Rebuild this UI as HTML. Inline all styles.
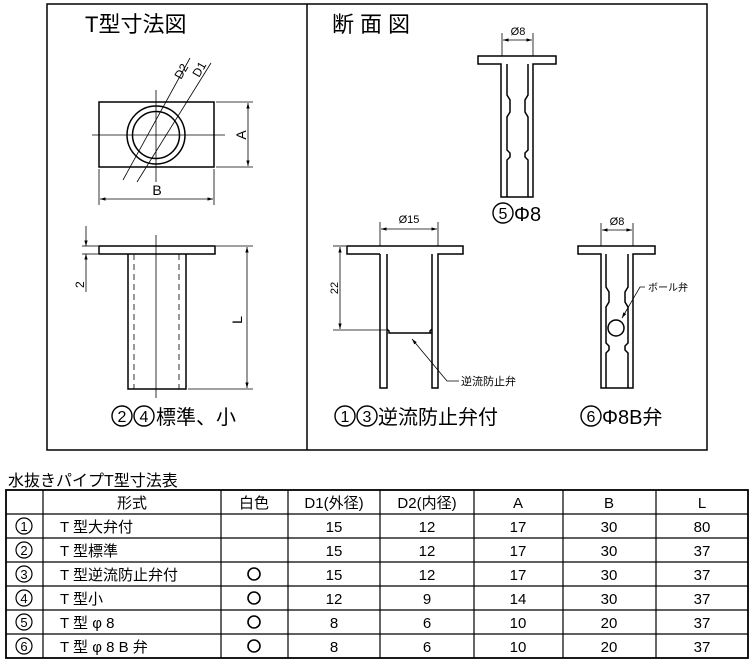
<!DOCTYPE html>
<html><head><meta charset="utf-8"><style>
body{margin:0;background:#fff;width:750px;height:661px;overflow:hidden}
svg{display:block}
text{font-family:"Liberation Sans","Noto Sans CJK JP",sans-serif;fill:#000}
</style></head><body>
<svg width="750" height="661" viewBox="0 0 750 661" xmlns="http://www.w3.org/2000/svg">
<defs>
<marker id="a" viewBox="0 0 10 10" refX="10" refY="5" markerWidth="7" markerHeight="7" orient="auto-start-reverse"><path d="M0,2 L10,5 L0,8 z" fill="#000"/></marker>
</defs>
<g fill="none" stroke="#000">
<rect x="47" y="4" width="660" height="446" stroke-width="1.5"/>
<line x1="307" y1="4" x2="307" y2="450" stroke-width="1.5"/>
</g>
<text x="85" y="32" font-size="22">T型寸法図</text>
<text x="332" y="32" font-size="22" letter-spacing="6">断面図</text>

<g fill="none" stroke="#000" stroke-width="1.5">
<rect x="99" y="102" width="115" height="65"/>
<circle cx="156" cy="135" r="29"/>
<circle cx="156" cy="135" r="23.5"/>
</g>
<g stroke="#000" stroke-width="0.8" fill="none">
<line x1="92" y1="135" x2="225" y2="135"/>
<line x1="156" y1="90" x2="156" y2="182"/>
<line x1="211" y1="63" x2="137" y2="182"/>
<line x1="190" y1="58" x2="123" y2="180"/>
<line x1="216" y1="102" x2="253" y2="102"/>
<line x1="216" y1="167" x2="253" y2="167"/>
<line x1="248" y1="103" x2="248" y2="166" marker-start="url(#a)" marker-end="url(#a)"/>
<line x1="99" y1="169" x2="99" y2="205"/>
<line x1="214" y1="169" x2="214" y2="205"/>
<line x1="100" y1="199" x2="213" y2="199" marker-start="url(#a)" marker-end="url(#a)"/>
</g>
<text x="157" y="195" font-size="14" text-anchor="middle">B</text>
<text transform="translate(246,135) rotate(-90)" font-size="14" text-anchor="middle">A</text>
<text transform="translate(181,80) rotate(-60)" font-size="12">D2</text>
<text transform="translate(199,78) rotate(-60)" font-size="12">D1</text>

<g fill="none" stroke="#000" stroke-width="1.5">
<rect x="99" y="246" width="116" height="8"/>
<path d="M128,254 V389 H186 V254"/>
</g>
<g stroke="#000" stroke-width="0.8" fill="none">
<line x1="134" y1="254" x2="134" y2="389" stroke-dasharray="6,4"/>
<line x1="179" y1="254" x2="179" y2="389" stroke-dasharray="6,4"/>
<line x1="156" y1="235" x2="156" y2="398"/>
<line x1="216" y1="246" x2="253" y2="246"/>
<line x1="188" y1="389" x2="253" y2="389"/>
<line x1="247" y1="247" x2="247" y2="388" marker-start="url(#a)" marker-end="url(#a)"/>
<line x1="82" y1="246" x2="98" y2="246"/>
<line x1="82" y1="254" x2="98" y2="254"/>
<line x1="86" y1="226" x2="86" y2="246" marker-end="url(#a)"/>
<line x1="86" y1="292" x2="86" y2="254" marker-end="url(#a)"/>
</g>
<text transform="translate(84,288) rotate(-90)" font-size="12">2</text>
<text transform="translate(242,320) rotate(-90)" font-size="14" text-anchor="middle">L</text>

<!-- captions with drawn circled numbers -->
<g fill="none" stroke="#000" stroke-width="1.4">
<circle cx="122" cy="416" r="10"/><circle cx="144" cy="416" r="10"/>
<circle cx="345" cy="416" r="10"/><circle cx="367" cy="416" r="10"/>
<circle cx="591" cy="416" r="10"/>
<circle cx="503" cy="213" r="10"/>
</g>
<g font-size="16" text-anchor="middle">
<text x="122" y="422">2</text><text x="144" y="422">4</text>
<text x="345" y="422">1</text><text x="367" y="422">3</text>
<text x="591" y="422">6</text><text x="503" y="219">5</text>
</g>
<text x="156" y="424" font-size="20">標準、小</text>
<text x="378" y="424" font-size="20">逆流防止弁付</text>
<text x="602" y="424" font-size="20">Φ8B弁</text>
<text x="514" y="221" font-size="20">Φ8</text>

<g fill="none" stroke="#000" stroke-width="1.5">
<path d="M501,64 H478 V56 H556 V64 H533 V197 H501 Z"/>
<path d="M507,64 V95 L510,100 V112 L507,117 V150 L510,153 V157 L507,160 V197"/>
<path d="M528,64 V95 L525,100 V112 L528,117 V150 L525,153 V157 L528,160 V197"/>
</g>
<g stroke="#000" stroke-width="0.8">
<line x1="502" y1="33" x2="502" y2="56"/><line x1="533" y1="33" x2="533" y2="56"/>
<line x1="503" y1="40" x2="532" y2="40" marker-start="url(#a)" marker-end="url(#a)"/>
</g>
<text x="518" y="35" font-size="11" text-anchor="middle">Ø8</text>

<g fill="none" stroke="#000" stroke-width="1.5">
<path d="M380,254 H347 V246 H463 V254 H438 V388 H432 V254 M380,254 V388 H387 V254"/>
<path d="M387,329 L389,331 V333 H432 M432,329 L430,331 V333"/>
</g>
<g stroke="#000" stroke-width="0.8" fill="none">
<line x1="380" y1="222" x2="380" y2="246"/><line x1="438" y1="222" x2="438" y2="246"/>
<line x1="381" y1="229" x2="437" y2="229" marker-start="url(#a)" marker-end="url(#a)"/>
<line x1="333" y1="246" x2="346" y2="246"/><line x1="333" y1="330" x2="386" y2="330"/>
<line x1="340" y1="247" x2="340" y2="329" marker-start="url(#a)" marker-end="url(#a)"/>
<polyline points="459,381 447,381 412,339" marker-end="url(#a)"/>
</g>
<text x="409" y="223" font-size="11" text-anchor="middle">Ø15</text>
<text transform="translate(338,288) rotate(-90)" font-size="11" text-anchor="middle">22</text>
<text x="461" y="385" font-size="11">逆流防止弁</text>

<g fill="none" stroke="#000" stroke-width="1.5">
<path d="M601,254 H578 V246 H655 V254 H633 V388 H601 Z"/>
<path d="M606,254 V287 L609,292 V302 L606,307 V343 L609,346 V350 L606,353 V388"/>
<path d="M628,254 V287 L625,292 V302 L628,307 V343 L625,346 V350 L628,353 V388"/>
<circle cx="616" cy="328" r="8"/>
</g>
<g stroke="#000" stroke-width="0.8" fill="none">
<line x1="601" y1="223" x2="601" y2="246"/><line x1="633" y1="223" x2="633" y2="246"/>
<line x1="602" y1="230" x2="632" y2="230" marker-start="url(#a)" marker-end="url(#a)"/>
<polyline points="645,287 640,287 622,318" marker-end="url(#a)"/>
</g>
<text x="617" y="225" font-size="11" text-anchor="middle">Ø8</text>
<text x="648" y="291" font-size="10">ボール弁</text>

<text x="8" y="486" font-size="16">水抜きパイプT型寸法表</text>
<g stroke="#000" stroke-width="1.2" fill="none">
<rect x="6" y="490" width="742" height="168" stroke-width="1.8"/>
<line x1="43" y1="490" x2="43" y2="658"/><line x1="221" y1="490" x2="221" y2="658"/>
<line x1="288" y1="490" x2="288" y2="658"/><line x1="380" y1="490" x2="380" y2="658"/>
<line x1="474" y1="490" x2="474" y2="658"/><line x1="563" y1="490" x2="563" y2="658"/>
<line x1="656" y1="490" x2="656" y2="658"/>
<line x1="6" y1="514" x2="748" y2="514"/><line x1="6" y1="538" x2="748" y2="538"/>
<line x1="6" y1="562" x2="748" y2="562"/><line x1="6" y1="586" x2="748" y2="586"/>
<line x1="6" y1="610" x2="748" y2="610"/><line x1="6" y1="634" x2="748" y2="634"/>
<circle cx="254" cy="574" r="6" stroke-width="1.6"/><circle cx="254" cy="598" r="6" stroke-width="1.6"/>
<circle cx="254" cy="622" r="6" stroke-width="1.6"/><circle cx="254" cy="646" r="6" stroke-width="1.6"/>
<circle cx="24" cy="526" r="8"/><circle cx="24" cy="550" r="8"/><circle cx="24" cy="574" r="8"/>
<circle cx="24" cy="598" r="8"/><circle cx="24" cy="622" r="8"/><circle cx="24" cy="646" r="8"/>
</g>
<g font-size="13" text-anchor="middle">
<text x="24" y="531">1</text><text x="24" y="555">2</text><text x="24" y="579">3</text>
<text x="24" y="603">4</text><text x="24" y="627">5</text><text x="24" y="651">6</text>
</g>
<g font-size="15" text-anchor="middle">
<text x="132" y="508">形式</text><text x="254" y="508">白色</text><text x="334" y="508">D1(外径)</text>
<text x="427" y="508">D2(内径)</text><text x="518" y="508">A</text><text x="609" y="508">B</text><text x="702" y="508">L</text>
<text x="334" y="532">15</text><text x="427" y="532">12</text><text x="518" y="532">17</text><text x="609" y="532">30</text><text x="702" y="532">80</text>
<text x="334" y="556">15</text><text x="427" y="556">12</text><text x="518" y="556">17</text><text x="609" y="556">30</text><text x="702" y="556">37</text>
<text x="334" y="580">15</text><text x="427" y="580">12</text><text x="518" y="580">17</text><text x="609" y="580">30</text><text x="702" y="580">37</text>
<text x="334" y="604">12</text><text x="427" y="604">9</text><text x="518" y="604">14</text><text x="609" y="604">30</text><text x="702" y="604">37</text>
<text x="334" y="628">8</text><text x="427" y="628">6</text><text x="518" y="628">10</text><text x="609" y="628">20</text><text x="702" y="628">37</text>
<text x="334" y="652">8</text><text x="427" y="652">6</text><text x="518" y="652">10</text><text x="609" y="652">20</text><text x="702" y="652">37</text>
</g>
<g font-size="15">
<text x="60" y="532">T 型大弁付</text><text x="60" y="556">T 型標準</text><text x="60" y="580">T 型逆流防止弁付</text>
<text x="60" y="604">T 型小</text><text x="60" y="628">T 型 φ 8</text><text x="60" y="652">T 型 φ 8 B 弁</text>
</g>
</svg>
</body></html>
